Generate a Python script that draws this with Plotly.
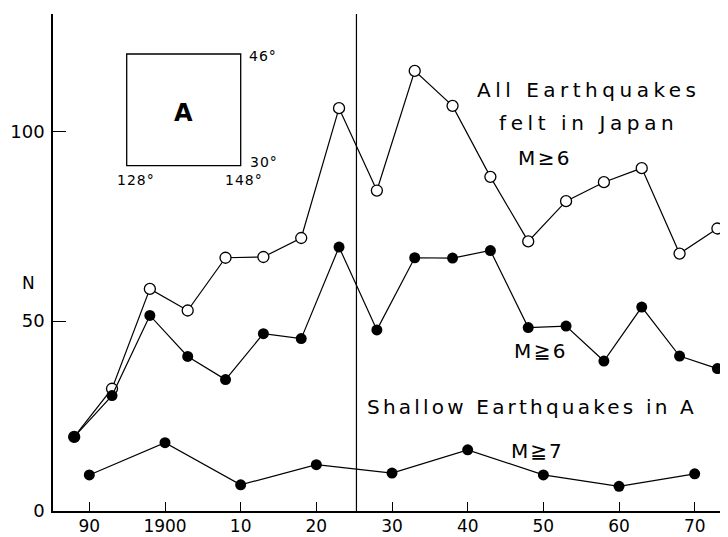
import plotly.graph_objects as go

# ---- data ----
years_5 = [1888, 1893, 1898, 1903, 1908, 1913, 1918, 1923, 1928, 1933, 1938, 1943,
           1948, 1953, 1958, 1963, 1968, 1973]
all_felt = [19.5, 32.2, 58.5, 52.8, 66.7, 66.9, 71.9, 106.1, 84.4, 115.9, 106.7, 88.0,
            71.0, 81.6, 86.6, 90.3, 67.8, 74.4]
m6 = [19.5, 30.4, 51.5, 40.7, 34.6, 46.7, 45.4, 69.5, 47.7, 66.7, 66.6, 68.6,
      48.3, 48.7, 39.5, 53.7, 40.8, 37.5]
years_10 = [1890, 1900, 1910, 1920, 1930, 1940, 1950, 1960, 1970]
shallow_m7 = [9.5, 18.0, 6.9, 12.2, 10.0, 16.1, 9.5, 6.5, 9.8]

x_tickvals = [1890, 1900, 1910, 1920, 1930, 1940, 1950, 1960, 1970]
x_ticktext = ["90", "1900", "10", "20", "30", "40", "50", "60", "70"]
y_tickvals = [0, 50, 100]
y_ticktext = ["0", "50", "100"]
divider_year = 1925.3

# ---- layout geometry (page pixels; the page body has an 8px margin) ----
OFF = 8
W, H = 728 - OFF, 537 - OFF
L, R, T, B = 53 - OFF, 0, 14 - OFF, 26
PW, PH = W - L - R, H - T - B
FONT = "DejaVu Sans"


def px(x):
    return (x - 53) / PW


def py(y):
    return (511 - y) / PH


def spaced(text, sp):
    return f'<span style="letter-spacing:{sp}px">{text}</span>'


fig = go.Figure()
line = dict(color="black", width=1.2)
fig.add_trace(go.Scatter(x=years_5, y=all_felt, mode="lines+markers", line=line,
                         marker=dict(symbol="circle", size=11, color="white",
                                     line=dict(color="black", width=1.3))))
fig.add_trace(go.Scatter(x=years_5, y=m6, mode="lines+markers", line=line,
                         marker=dict(symbol="circle", size=11, color="black")))
fig.add_trace(go.Scatter(x=years_10, y=shallow_m7, mode="lines+markers", line=line,
                         marker=dict(symbol="circle", size=11, color="black")))

fig.add_shape(type="line", xref="x", yref="paper", x0=divider_year, x1=divider_year,
              y0=0, y1=1, line=dict(color="black", width=1.2))
# inset region box
fig.add_shape(type="rect", xref="paper", yref="paper", x0=px(126.7), x1=px(240.7),
              y0=py(165.7), y1=py(54), line=dict(color="black", width=1.3))

ann = []


def add(text, x, y, size, xanchor="center", bold=False):
    if bold:
        text = f"<b>{text}</b>"
    ann.append(dict(text=text, x=x, y=y, xref="paper", yref="paper", xanchor=xanchor,
                    yanchor="middle", showarrow=False,
                    font=dict(family=FONT, size=size, color="black")))


add(spaced("All Earthquakes", 4.5), px(589), py(90), 20)
add(spaced("felt in Japan", 4.6), px(588), py(123.3), 20)
add(spaced("M≥6", 2.4), px(544.5), py(158.3), 20)
add(spaced("M≧6", 2.4), px(541.2), py(351), 20)
add(spaced("Shallow Earthquakes in A", 3.2), px(532), py(406.7), 20)
add(spaced("M≧7", 2.0), px(537.7), py(451), 20)
add("N", px(28), py(283), 17)
add("A", px(183), py(113), 24, bold=True)
add(spaced("46°", 1), px(246.7), py(56), 14, xanchor="left")
add(spaced("30°", 1), px(248), py(162), 14, xanchor="left")
add(spaced("128°", 1), px(136), py(180), 14)
add(spaced("148°", 1), px(244.5), py(180), 14)

fig.update_layout(
    width=W, height=H,
    margin=dict(l=L, r=R, t=T, b=B, pad=0, autoexpand=False),
    paper_bgcolor="white", plot_bgcolor="white",
    showlegend=False,
    annotations=ann,
    font=dict(family=FONT, size=18, color="black"),
)
fig.update_xaxes(range=[1885.2, 1974.4], tickvals=x_tickvals, ticktext=x_ticktext,
                 ticks="inside", ticklen=9, tickwidth=1.3, tickcolor="black",
                 showline=True, linecolor="black", linewidth=1.5,
                 showgrid=False, zeroline=False, ticklabelstandoff=-1,
                 tickfont=dict(family=FONT, size=17))
fig.update_yaxes(range=[0, PH / 3.797], tickvals=y_tickvals, ticktext=y_ticktext,
                 ticks="inside", ticklen=13, tickwidth=1.3, tickcolor="black",
                 showline=True, linecolor="black", linewidth=1.5,
                 showgrid=False, zeroline=False, ticklabelstandoff=3,
                 tickfont=dict(family=FONT, size=18))

fig.write_html("out.html")
